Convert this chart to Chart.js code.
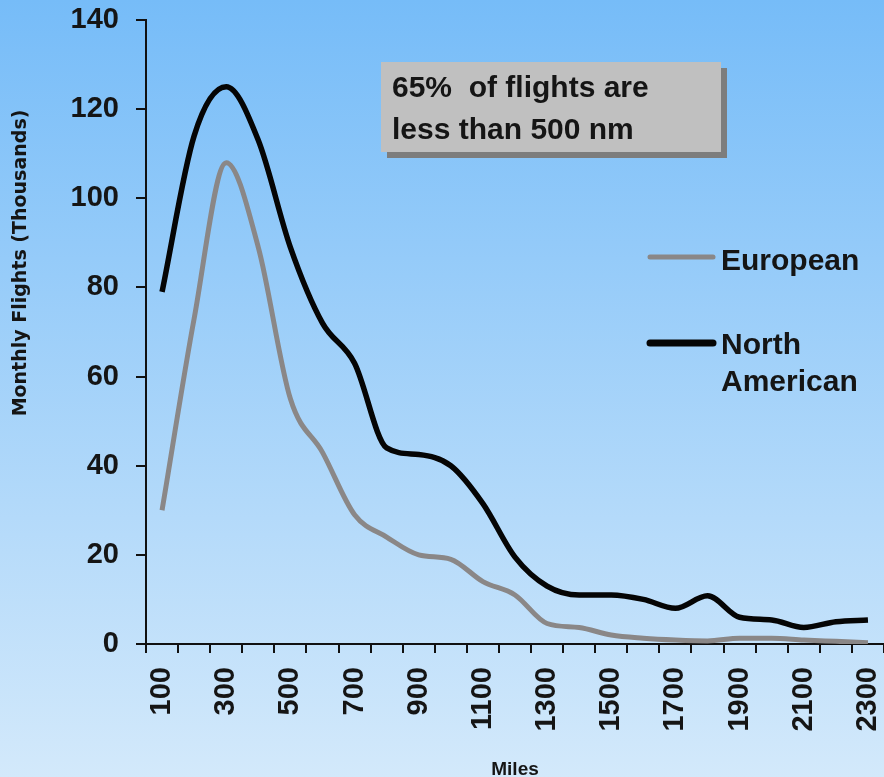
<!DOCTYPE html>
<html><head><meta charset="utf-8">
<script src="https://cdn.jsdelivr.net/npm/chart.js@4"></script>
<style>html,body{margin:0;padding:0;background:#fff}canvas{display:block}</style>
</head><body>
<canvas id="c" width="884" height="777"></canvas>
<script>
// ---- data ----
const categories = ['100','200','300','400','500','600','700','800','900','1000','1100','1200','1300','1400','1500','1600','1700','1800','1900','2000','2100','2200','2300'];
const european = [30, 73, 108, 89, 55, 43, 29, 24, 20, 19, 14, 11, 4.6, 3.7, 2, 1.3, 0.9, 0.7, 1.3, 1.3, 0.9, 0.6, 0.3];
const northAmerican = [79, 114, 125, 113, 89, 72, 63, 44, 42.5, 40, 31.5, 19.5, 13, 11, 11, 10, 8, 10.8, 6, 5.4, 3.7, 5, 5.4];
const yTickValues = [0, 20, 40, 60, 80, 100, 120, 140];
const seriesNames = ['European', 'North American'];
const noteLines = ['65%  of flights are', 'less than 500 nm'];
const xTitle = 'Miles';
const yTitle = 'Monthly Flights (Thousands)';

const FONT = '"Liberation Sans", Arial, sans-serif';
const TXT = '#151515';

const decor = {
  id: 'decor',
  beforeDraw(chart) {
    const ctx = chart.ctx;
    const g = ctx.createLinearGradient(0, 0, 0, chart.height);
    g.addColorStop(0, '#76bcf8');
    g.addColorStop(1, '#d3e9fb');
    ctx.save();
    ctx.fillStyle = g;
    ctx.fillRect(0, 0, chart.width, chart.height);
    ctx.restore();
  },
  afterDraw(chart) {
    const ctx = chart.ctx;
    ctx.save();
    // note box
    ctx.fillStyle = '#7d7d7d';
    ctx.fillRect(387, 68, 340, 90);
    ctx.fillStyle = '#c0c0c0';
    ctx.fillRect(381, 62, 340, 90);
    ctx.fillStyle = TXT;
    ctx.font = 'bold 30px ' + FONT;
    ctx.textAlign = 'left';
    ctx.textBaseline = 'alphabetic';
    ctx.fillText(noteLines[0], 392, 97);
    ctx.fillText(noteLines[1], 392, 139);

    // legend
    const ds = chart.data.datasets;
    ctx.lineCap = 'round';
    ctx.strokeStyle = ds[0].borderColor; ctx.lineWidth = 5;
    ctx.beginPath(); ctx.moveTo(650, 257); ctx.lineTo(713, 257); ctx.stroke();
    ctx.strokeStyle = ds[1].borderColor; ctx.lineWidth = 7;
    ctx.beginPath(); ctx.moveTo(650, 343); ctx.lineTo(713, 343); ctx.stroke();
    ctx.fillStyle = TXT;
    ctx.fillText(ds[0].label, 721, 270);
    const parts = ds[1].label.split(' ');
    ctx.fillText(parts[0], 721, 354);
    ctx.fillText(parts[1], 721, 391);

    // axis titles
    ctx.font = 'bold 19px ' + FONT;
    ctx.textAlign = 'center';
    ctx.textBaseline = 'alphabetic';
    ctx.fillText(xTitle, (chart.chartArea.left + chart.chartArea.right) / 2, 775);
    ctx.translate(21, 263);
    ctx.rotate(-Math.PI / 2);
    ctx.font = 'bold 19px "DejaVu Sans", sans-serif';
    ctx.textBaseline = 'middle';
    ctx.fillText(yTitle, 0, 0);
    ctx.restore();
  }
};

new Chart(document.getElementById('c'), {
  type: 'line',
  data: {
    labels: categories,
    datasets: [
      { label: seriesNames[0], data: european, borderColor: '#8a8787', borderWidth: 5, pointRadius: 0, cubicInterpolationMode: 'monotone', fill: false },
      { label: seriesNames[1], data: northAmerican, borderColor: '#050505', borderWidth: 5.5, pointRadius: 0, cubicInterpolationMode: 'monotone', fill: false }
    ]
  },
  options: {
    responsive: false,
    animation: false,
    layout: { padding: { top: 20, right: 0, left: 0, bottom: 0 } },
    plugins: { legend: { display: false }, tooltip: { enabled: false } },
    scales: {
      x: {
        type: 'category',
        offset: true,
        grid: { offset: true, drawOnChartArea: false, drawTicks: true, tickLength: 9, color: '#111', lineWidth: 2 },
        border: { display: true, color: '#111', width: 2 },
        ticks: {
          autoSkip: false, maxRotation: 90, minRotation: 90, padding: 14,
          color: TXT, font: { family: FONT, size: 29, weight: 'bold' },
          callback: function (v, i) { return i % 2 === 0 ? this.getLabelForValue(v) : ''; }
        },
        afterFit: (s) => { s.height = 133; s.paddingLeft = 0; s.paddingRight = 0; }
      },
      y: {
        min: 0, max: 140,
        afterBuildTicks: (s) => { s.ticks = yTickValues.map(v => ({ value: v })); },
        grid: { drawOnChartArea: false, drawTicks: true, tickLength: 10, color: '#111', lineWidth: 2 },
        border: { display: true, color: '#111', width: 2 },
        ticks: { padding: 17, color: TXT, font: { family: FONT, size: 29, weight: 'bold' } },
        afterFit: (s) => { s.width = 146; s.paddingTop = 0; s.paddingBottom = 0; }
      }
    }
  },
  plugins: [decor]
});
</script>
</body></html>
